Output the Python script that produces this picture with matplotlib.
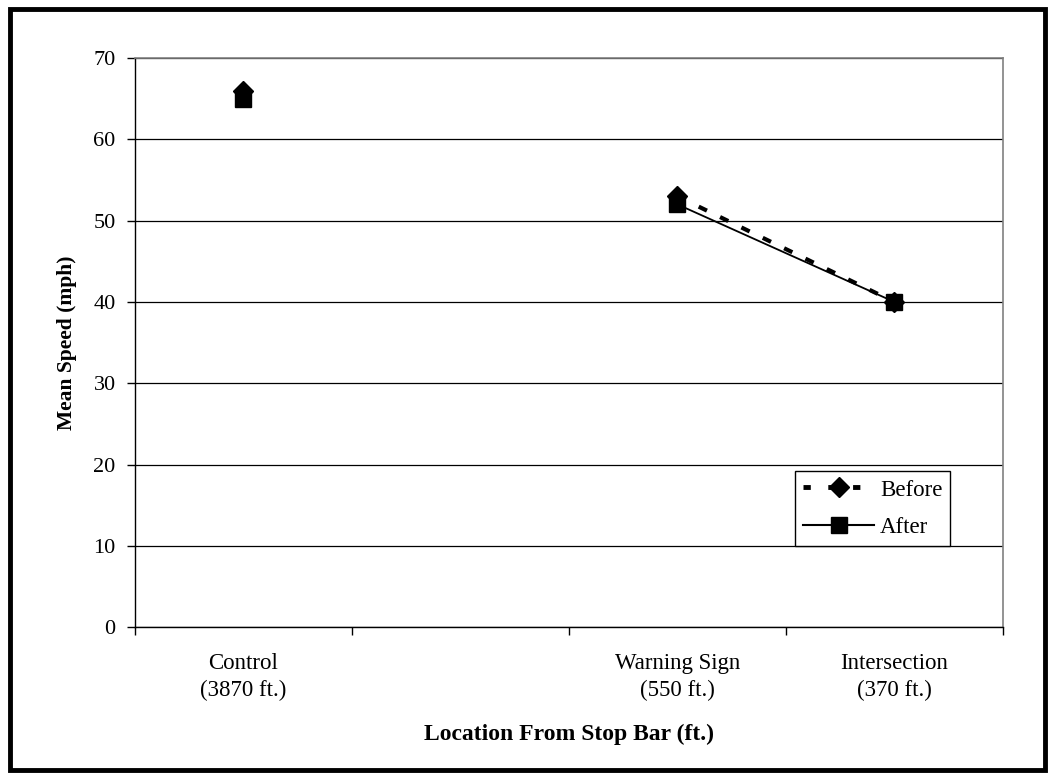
import matplotlib

matplotlib.use('Agg')
import matplotlib.pyplot as plt
from matplotlib.patches import Rectangle

# data (category 2 is an empty slot in the original chart)
categories = ['Control\n(3870 ft.)', '', 'Warning Sign\n(550 ft.)', 'Intersection\n(370 ft.)']
before = [66, None, 53, 40]
after = [65, None, 52, 40]

plt.rcParams['font.family'] = ['Liberation Serif', 'DejaVu Serif']

fig = plt.figure(figsize=(10.5, 7.79), dpi=100)
ax = fig.add_axes([0.1286, 0.195, 0.8264, 0.7305])

xs = [i + 0.5 for i in range(len(categories))]
bx = [x for x, v in zip(xs, before) if v is not None]
by = [v for v in before if v is not None]
ax_ = [x for x, v in zip(xs, after) if v is not None]
ay = [v for v in after if v is not None]

# control point stands alone, remaining two joined
ax.plot(ax_[1:], ay[1:], color='black', lw=1.3, zorder=3)
ax.plot(bx[1:], by[1:], color='black', lw=3, dashes=(2.2, 3.5), zorder=3)
ax.plot(bx, by, ls='none', marker='D', ms=10, color='black', zorder=4)
ax.plot(ax_, ay, ls='none', marker='s', ms=11, color='black', zorder=5)

# legend handles
ax.plot([], [], color='black', lw=3.5, dashes=(1.5, 3.6), marker='D', ms=10, label='Before')
ax.plot([], [], color='black', lw=1.5, marker='s', ms=11, label='After')

ax.set_xlim(0, len(categories))
ax.set_ylim(0, 70)
ax.set_yticks(range(0, 71, 10))
ax.set_xticks(range(0, len(categories) + 1))
ax.set_xticklabels([])
ax.set_xticks(xs, minor=True)
ax.set_xticklabels(categories, minor=True, fontsize=16.5, linespacing=1.35)
ax.tick_params(axis='x', which='minor', length=0, pad=19)
ax.tick_params(axis='x', which='major', direction='out', length=6, width=1)
ax.tick_params(axis='y', direction='out', length=6, width=1, labelsize=16, pad=8)

ax.yaxis.grid(True, color='black', lw=0.9)
ax.set_axisbelow(True)
for s in ['top', 'right']:
    ax.spines[s].set_color('#808080')
    ax.spines[s].set_linewidth(1.2)
for s in ['left', 'bottom']:
    ax.spines[s].set_color('black')
    ax.spines[s].set_linewidth(1)

ax.set_ylabel('Mean Speed (mph)', fontsize=15.5, fontweight='bold', labelpad=12)
ax.set_xlabel('Location From Stop Bar (ft.)', fontsize=17, fontweight='bold', labelpad=16)

leg = ax.legend(loc='lower right', bbox_to_anchor=(0.9395, 0.1432), fontsize=16.5,
                frameon=True, fancybox=False, edgecolor='black', handlelength=3.1,
                handletextpad=0.25, borderpad=0.35, labelspacing=0.7, borderaxespad=0)
leg.get_frame().set_linewidth(1)
leg.get_frame().set_alpha(1)

# outer frame around the whole chart
fig.patches.append(Rectangle((0.0095, 0.0115), 0.9858, 0.977, transform=fig.transFigure,
                             fill=False, edgecolor='black', lw=3.5))

fig.savefig('out.png', dpi=100)
